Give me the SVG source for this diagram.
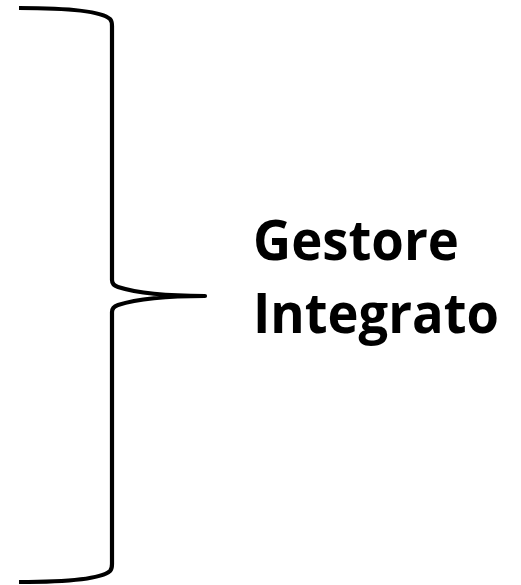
<svg xmlns="http://www.w3.org/2000/svg" width="521" height="585" viewBox="0 0 521 585">
  <style>
    .brace { fill: none; stroke: #000; stroke-width: 4.2; stroke-linecap: butt; stroke-linejoin: round; }
    .label { font-family: "Open Sans", "Liberation Sans", sans-serif; font-weight: bold; font-size: 56px; fill: #000; }
  </style>
  <rect width="521" height="585" fill="#fff"/>
  <g id="connectors">
    <path class="brace" d="M19,8 C60,8 100,10 110,19 Q112,21 112,26 L112,280 Q112,285 118,287 C140,294 170,296 205,296 C170,296 140,298 118,305 Q112,307 112,312 L112,564 Q112,569 110,571 C100,580 60,582 19,582"/>
  </g>
  <g id="label">
    <text class="label" x="253" y="260" textLength="206" lengthAdjust="spacingAndGlyphs">Gestore</text>
    <text class="label" x="253" y="333" textLength="246" lengthAdjust="spacingAndGlyphs">Integrato</text>
  </g>
</svg>
